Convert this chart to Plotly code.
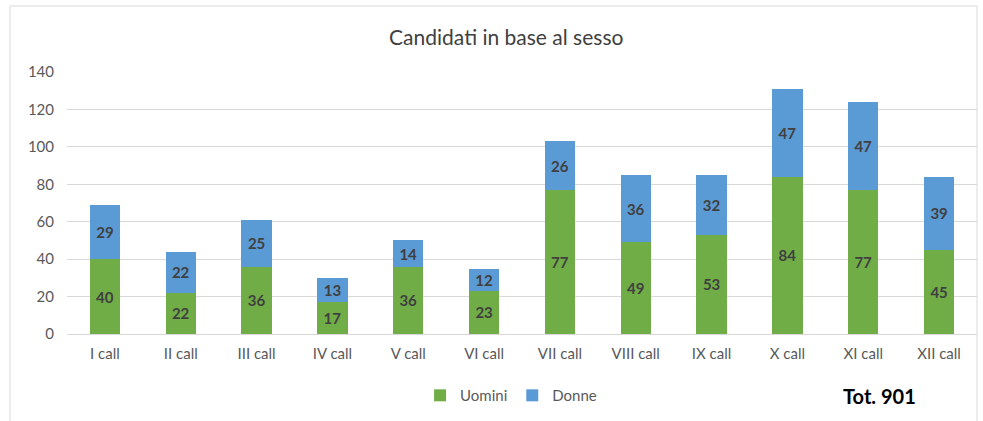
import plotly.graph_objects as go

CATEGORIES = ["I call", "II call", "III call", "IV call", "V call", "VI call",
              "VII call", "VIII call", "IX call", "X call", "XI call", "XII call"]
UOMINI = [40, 22, 36, 17, 36, 23, 77, 49, 53, 84, 77, 45]
DONNE = [29, 22, 25, 13, 14, 12, 26, 36, 32, 47, 47, 39]
TOTALE = 901

COLOR_GREEN = "#70AD47"
COLOR_BLUE = "#5B9BD5"
FONT = "Lato, Open Sans, sans-serif"

fig = go.Figure()
for name, vals, col in [("Uomini", UOMINI, COLOR_GREEN), ("Donne", DONNE, COLOR_BLUE)]:
    fig.add_trace(go.Bar(
        x=CATEGORIES, y=vals, name=name, marker=dict(color=col, line=dict(width=0)),
        text=vals, textposition="inside", insidetextanchor="middle", textangle=0,
        constraintext="none",
        textfont=dict(family=FONT, size=15, color="#404040", weight="bold"),
    ))

fig.update_layout(
    barmode="stack",
    bargap=0.6,
    width=983, height=421,
    paper_bgcolor="white", plot_bgcolor="white",
    margin=dict(t=72, b=87, l=67, r=6, autoexpand=False),
    font=dict(family=FONT, size=15, color="#595959"),
    title=dict(text="Candidati in base al sesso", x=0.515, xanchor="center", y=0.91, yanchor="middle",
               font=dict(family=FONT, size=21, color="#404040")),
    legend=dict(orientation="h", x=0.488, xanchor="center", y=-0.235, yanchor="middle",
                font=dict(size=15, color="#595959"), traceorder="normal", itemwidth=30),
    uniformtext=dict(minsize=10, mode="show"),
    annotations=[dict(text=f"<b>Tot. {TOTALE}</b>", xref="paper", yref="paper", x=0.893, y=-0.235,
                      xanchor="center", yanchor="middle", showarrow=False,
                      font=dict(family=FONT, size=20, color="#000000"))],
    shapes=[dict(type="rect", xref="paper", yref="paper", x0=-0.0627, x1=1.0, y0=-0.4, y1=1.252,
                 line=dict(color="#D9D9D9", width=1), fillcolor="rgba(0,0,0,0)")],
)
fig.update_xaxes(showgrid=False, showline=True, linecolor="#D9D9D9", ticks="", automargin=False,
                 tickfont=dict(size=15, color="#595959"), ticklabelstandoff=6)
fig.update_yaxes(range=[0, 140], dtick=20, showgrid=True, gridcolor="#D9D9D9", zeroline=False,
                 automargin=False, tickfont=dict(size=15, color="#595959"), ticklabelstandoff=12)

# the page's default body margin would offset the chart by 8px
fig.write_html("out.html", config={"displayModeBar": False},
               post_script="document.body.style.margin='0';")
